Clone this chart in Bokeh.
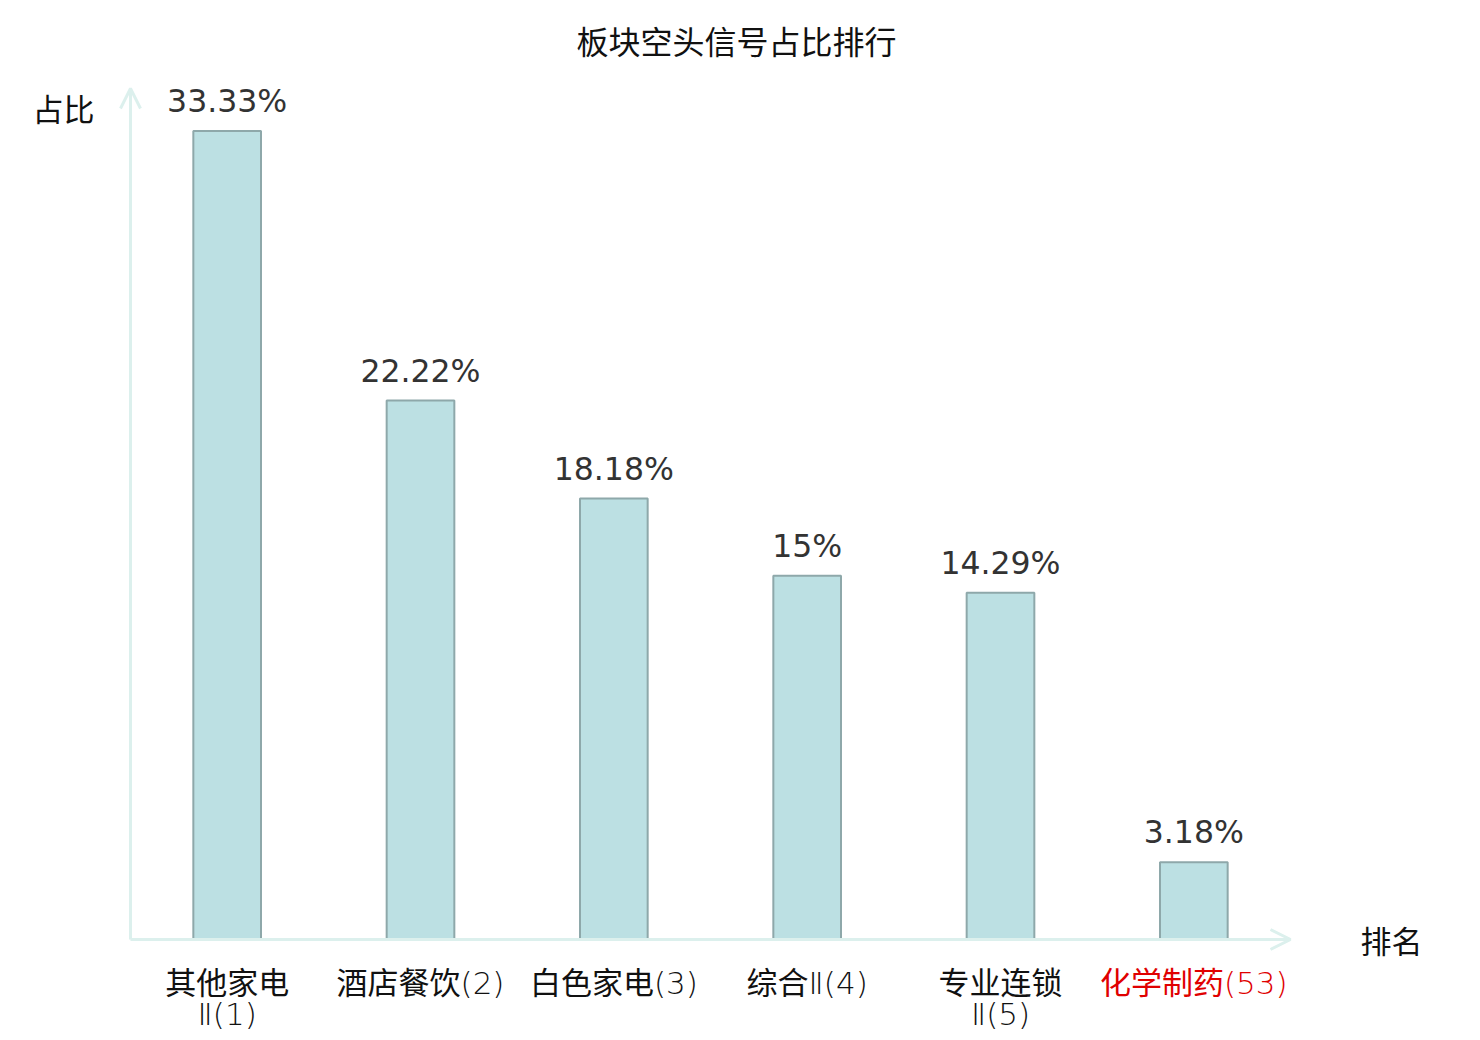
from bokeh.plotting import figure
from bokeh.models import Range1d, Arrow, OpenHead, ColumnDataSource
from bokeh.core.properties import value
from bokeh.embed import file_html
from bokeh.resources import INLINE

# ---- data ----
categories = ["其他家电Ⅱ", "酒店餐饮", "白色家电", "综合Ⅱ", "专业连锁Ⅱ", "化学制药"]
ranks = [1, 2, 3, 4, 5, 53]
display_labels = ["其他家电\nⅡ(1)", "酒店餐饮(2)", "白色家电(3)", "综合Ⅱ(4)", "专业连锁\nⅡ(5)", "化学制药(53)"]
values = [33.33, 22.22, 18.18, 15, 14.29, 3.18]
value_labels = ["33.33%", "22.22%", "18.18%", "15%", "14.29%", "3.18%"]
label_colors = ["#111111", "#111111", "#111111", "#111111", "#111111", "#e00000"]
title_text = "板块空头信号占比排行"
y_name = "占比"
x_name = "排名"

# ---- layout ----
W, H = 1472, 1032
X0_PX, BAND_PX = 130, 1160 / 6          # x axis origin (figure px) and band width
Y0_PX, YMAX = 939, 35                     # baseline (figure px from top) and axis max value
PX_PER_UNIT = 849 / YMAX

xr = Range1d(-X0_PX / BAND_PX, (W - X0_PX) / BAND_PX)
yr = Range1d(-(H - Y0_PX) / PX_PER_UNIT, Y0_PX / PX_PER_UNIT)

p = figure(width=W, height=H, x_range=xr, y_range=yr, output_backend="svg",
           toolbar_location=None, min_border=0)
p.axis.visible = False
p.grid.visible = False
p.outline_line_color = None
p.background_fill_color = "white"
p.border_fill_color = "white"

xs = [i + 0.5 for i in range(len(categories))]
src = ColumnDataSource(dict(x=xs, top=values, vlab=value_labels, lab=display_labels, col=label_colors))

LABEL_FONT = value("'DejaVu Sans Light', 'DejaVu Sans ExtraLight', 'Noto Sans CJK SC'")
CJK_FONT = value("Noto Sans CJK SC")

# axes as arrows
axis_col = "#dcf0ed"
p.add_layout(Arrow(end=OpenHead(size=20, line_color=axis_col, line_width=3),
                   x_start=0, y_start=0, x_end=len(categories), y_end=0,
                   line_color=axis_col, line_width=3))
p.add_layout(Arrow(end=OpenHead(size=20, line_color=axis_col, line_width=3),
                   x_start=0, y_start=0, x_end=0, y_end=(Y0_PX - 88) / PX_PER_UNIT,
                   line_color=axis_col, line_width=3))

p.vbar(x="x", top="top", bottom=0, width=0.35, source=src,
       fill_color="#bce0e3", line_color="#8ea8aa", line_width=2)

p.text(x="x", y="top", text="vlab", source=src, text_font=value("DejaVu Sans"),
       text_font_size="31.5px", text_color="#333333", text_align="center",
       text_baseline="alphabetic", y_offset=-30)

p.text(x="x", y=0, text="lab", source=src, text_font=LABEL_FONT,
       text_font_size="31px", text_color="col", text_align="center",
       text_baseline="top", y_offset=25, text_line_height=0.88)

# title and axis names
p.text(x=[(W / 2 - X0_PX) / BAND_PX], y=[(Y0_PX - 39) / PX_PER_UNIT], text=[title_text],
       text_font=CJK_FONT, text_font_size="32px", text_color="#111111",
       text_align="center", text_baseline="middle")
p.text(x=[(63 - X0_PX) / BAND_PX], y=[(Y0_PX - 107) / PX_PER_UNIT], text=[y_name],
       text_font=CJK_FONT, text_font_size="31px", text_color="#111111",
       text_align="center", text_baseline="middle")
p.text(x=[(1391 - X0_PX) / BAND_PX], y=[(Y0_PX - 939) / PX_PER_UNIT], text=[x_name],
       text_font=CJK_FONT, text_font_size="31px", text_color="#111111",
       text_align="center", text_baseline="middle")

open("out.html", "w").write(file_html(p, INLINE))
